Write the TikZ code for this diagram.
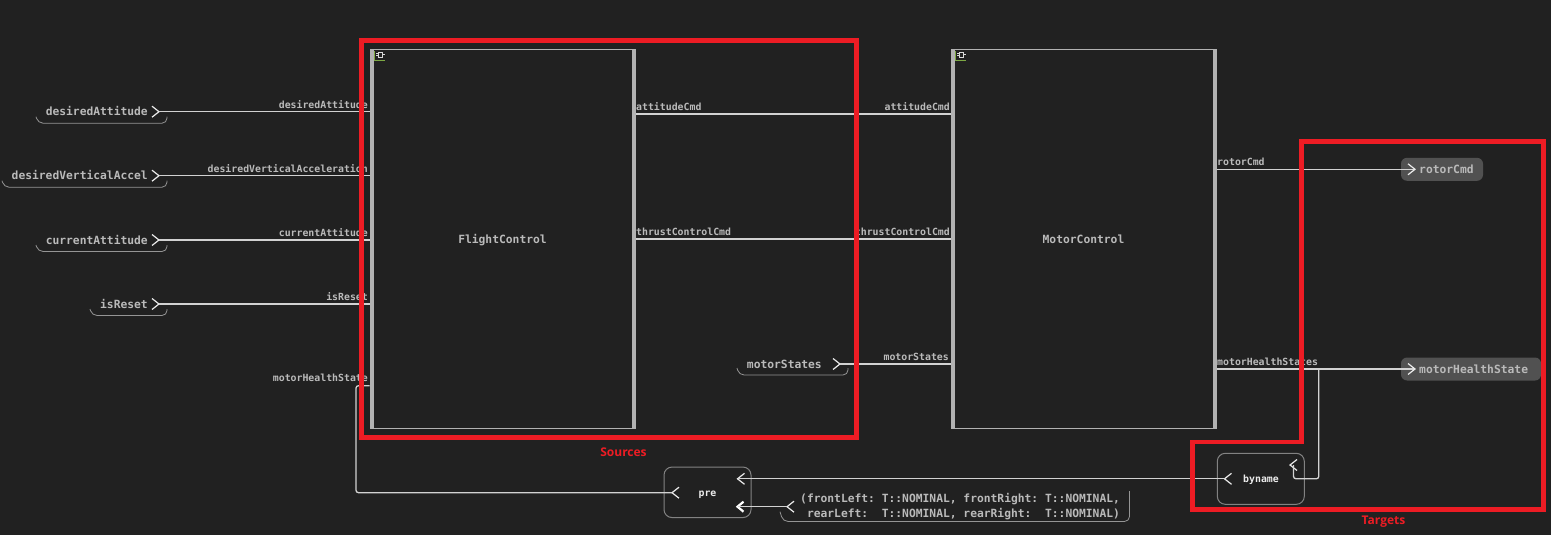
\documentclass[tikz,border=0pt]{standalone}
\usepackage{fontspec}
\usetikzlibrary{calc}
\setmainfont{DejaVu Sans Mono}
\newfontfamily\notefont{Open Sans}
\definecolor{bgcol}{HTML}{212121}
\definecolor{txtcol}{HTML}{BABABA}
\definecolor{wirecol}{HTML}{D2D2D2}
\definecolor{barcol}{HTML}{B2B2B2}
\definecolor{redcol}{HTML}{ED1C24}
\definecolor{pillcol}{HTML}{515151}
\definecolor{iconcol}{HTML}{7DA844}
\tikzset{
  big/.style={font=\fontsize{11.3}{15}\selectfont\bfseries\frenchspacing,text=txtcol,inner sep=0},
  small/.style={font=\fontsize{9.85}{12}\selectfont\bfseries,text=txtcol,inner sep=0},
  fn/.style={font=\fontsize{9.85}{12}\selectfont\bfseries,text=white!92!black,inner sep=0},
  note/.style={font=\fontsize{12}{14}\selectfont\notefont\bfseries,text=redcol,inner sep=0},
  wire/.style={draw=wirecol,line width=1.3},
  brk/.style={draw=txtcol!80!black,line width=.8,rounded corners=5},
  block/.style={draw=barcol,line width=1,minimum width=265,minimum height=379,inner sep=0},
  fnbox/.style={draw=txtcol!70!black,line width=1,rounded corners=8,inner sep=0},
  pill/.style={fill=pillcol,rounded corners=6},
  redbox/.style={draw=redcol,line width=4.6},
  chevr/.pic={\draw[draw=white!92!black,line width=1.2] (-7,-5.5) -- (0,0) -- (-7,5.5);},
  chevl/.pic={\draw[draw=white!92!black,line width=1.2] (7,-5.5) -- (0,0) -- (7,5.5);},
  chevb/.pic={\draw[draw=white,line width=2.2] (6,-5) -- (0,0) -- (6,5);}
}
\begin{document}
\begin{tikzpicture}[x=1pt,y=-1pt]
\fill[bgcol] (0,0) rectangle (1551,535);
\useasboundingbox (0,0) rectangle (1551,535);

\node[block] (flight) at (502.5,238.8) {};
\node[block] (motor) at (1083.5,238.8) {};
\node[big,anchor=base] (flighttxt) at (502.5,243) {FlightControl};
\node[big,anchor=base] (motortxt) at (1083.5,243) {MotorControl};

\foreach \b in {flight,motor}{
\fill[barcol] (\b.north west) rectangle ++(4,379);
\fill[barcol] (\b.north east) rectangle ++(-4,379);
\draw[iconcol,line width=.9] ($(\b.north west)+(5,2)$) -- ++(0,10) -- ++(10.5,0);
\draw[white!85!black,line width=.9] ($(\b.north west)+(9,3.5)$) rectangle ++(4,5);
\draw[white!85!black,line width=.8] ($(\b.north west)+(6.5,5)$) -- ++(2.5,0) ($(\b.north west)+(6.5,7)$) -- ++(2.5,0) ($(\b.north west)+(13,6)$) -- ++(2,0);
}

\foreach \i/\y/\xl/\nm/\lbl in {1/111.7/36/desiredAttitude/desiredAttitude,
2/175.7/2/desiredVerticalAccel/desiredVerticalAcceleration,
3/240/36/currentAttitude/currentAttitude,
4/304/90/isReset/isReset}{
\coordinate (in\i) at (159,\y);
\node[big,anchor=east] (intxt\i) at (148,\y-.5) {\nm};
\pic at (in\i) {chevr};
\draw[brk] (\xl,\y+5) -- (\xl+2,\y+11.5) -- (167,\y+11.5) -- (167,\y+5);
\draw[wire] (in\i) -- (in\i -| flight.west);
\node[small,anchor=east] (inlbl\i) at (368,\y-7) {\lbl};
}
\node[small,anchor=east] (inlbl5) at (368,378) {motorHealthState};

\foreach \i/\y/\lbl in {1/114/attitudeCmd,2/239/thrustControlCmd}{
\coordinate (out\i) at (flight.east |- 0,\y);
\draw[wire] (out\i) -- (out\i -| motor.west);
\node[small,anchor=west] (outa\i) at (636,\y-7.5) {\lbl};
\node[small,anchor=east] (outb\i) at (950,\y-7.5) {\lbl};
}

\coordinate (st) at (840,364);
\node[big,anchor=east] (sttxt) at (822,364) {motorStates};
\pic at (st) {chevr};
\draw[brk] (737,368) -- (739,375) -- (848,375) -- (848,368);
\draw[wire] (st) -- (st -| motor.west);
\node[small,anchor=east] (stlbl) at (949,357) {motorStates};

\node[pill,minimum width=82,minimum height=23] (rotor) at (1442,169.3) {};
\node[big,anchor=west] (rotortxt) at (1419,169.3) {rotorCmd};
\node[pill,minimum width=140,minimum height=23] (health) at (1471,369) {};
\node[big,anchor=west] (healthtxt) at (1419,369) {motorHealthState};
\coordinate (rotorin) at (1415,169.3);
\coordinate (healthin) at (1415,369);
\draw[wire] (rotorin -| motor.east) -- (rotorin);
\draw[wire] (healthin -| motor.east) -- (healthin);
\pic at (rotorin) {chevr};
\pic at (healthin) {chevr};
\node[small,anchor=west] (rotorlbl) at (1217,162) {rotorCmd};
\node[small,anchor=west] (healthlbl) at (1217,362) {motorHealthStates};

\node[fnbox,minimum width=87,minimum height=51] (byname) at (1260.8,478.8) {};
\node[fn,anchor=base] (bynametxt) at (1261,482.5) {byname};
\node[fnbox,minimum width=87,minimum height=50.5] (pre) at (707.5,492.3) {};
\node[fn,anchor=base] (pretxt) at (707.5,496) {pre};

\coordinate (byin) at (1290,465);
\coordinate (byout) at (1224.5,478.8);
\coordinate (prein) at (737.5,478.8);
\coordinate (prein2) at (737.5,506.7);
\coordinate (preout) at (672,492.7);
\coordinate (tap) at (1318.8,369);
\coordinate (hook) at (1293.5,478.8);
\coordinate (fbx) at (356,385.7);
\coordinate (cst) at (787,506.7);

\pic at (byin) {chevl};
\pic at (byout) {chevl};
\pic at (prein) {chevl};
\pic at (prein2) {chevb};
\pic at (preout) {chevl};
\pic at (cst) {chevl};

\draw[wire,rounded corners=2.5] (tap) -- (tap |- byout) -- (hook) -- (hook |- byin);
\draw[wire] (byout) -- (prein);
\draw[wire] (cst) -- (prein2);
\draw[wire,rounded corners=2.5] (preout) -- (fbx |- preout) -- (fbx) -- (fbx -| flight.west);

\node[big,anchor=west,align=left] (cstxt) at (800,506.5) {(frontLeft: T::NOMINAL, frontRight: T::NOMINAL,\\\ rearLeft:\ \ T::NOMINAL, rearRight:\ \ T::NOMINAL)};
\draw[brk] (780,511.7) -- (783,521.5) -- (1129.5,521.5) -- (1129.5,491);

\draw[redbox] (361.5,40.5) rectangle (856.5,437.5);
\draw[redbox] (1301.5,141.7) -- (1543.5,141.7) -- (1543.5,509.5) -- (1192.5,509.5) -- (1192.5,442) -- (1301.5,442) -- cycle;
\node[note] (srclbl) at (623.5,452) {Sources};
\node[note] (tgtlbl) at (1383.5,522) {Targets};

\end{tikzpicture}
\end{document}
